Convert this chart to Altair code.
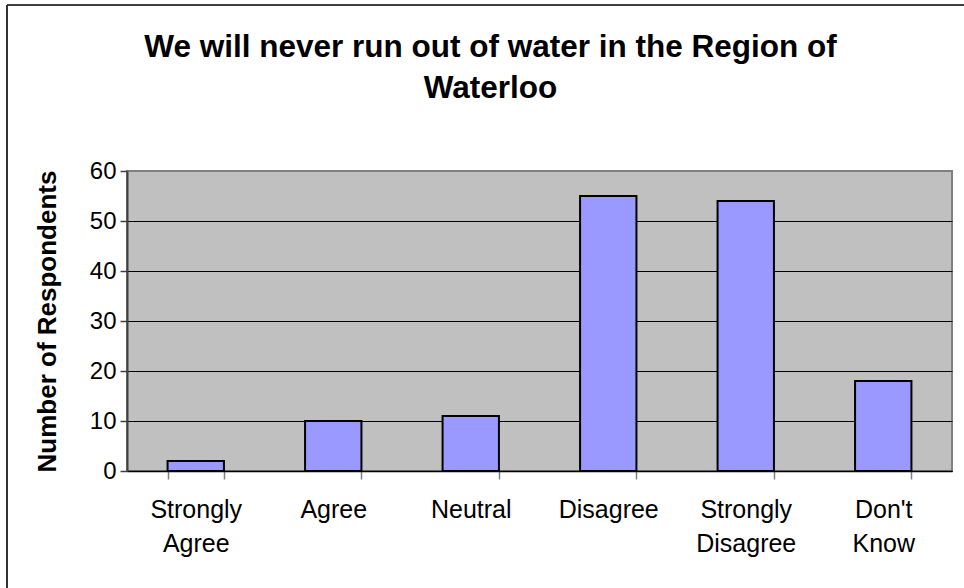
import altair as alt
import pandas as pd

categories = ["Strongly Agree", "Agree", "Neutral", "Disagree", "Strongly Disagree", "Don't Know"]
respondents = [2, 10, 11, 55, 54, 18]
y_ticks = [0, 10, 20, 30, 40, 50, 60]
title_lines = ["We will never run out of water in the Region of", "Waterloo"]
y_title = "Number of Respondents"

df = pd.DataFrame({"category": categories, "count": respondents})
one = pd.DataFrame({"k": [0]})

FONT = "Liberation Sans"

bars = alt.Chart(df).mark_bar(color="#9999FF", stroke="black", strokeWidth=2).encode(
    x=alt.X(
        "category:N",
        sort=categories,
        scale=alt.Scale(paddingInner=0.59, paddingOuter=0.295),
        axis=alt.Axis(
            title=None,
            labelExpr="split(datum.label, ' ')",
            labelAngle=0,
            labelFont=FONT,
            labelFontSize=25,
            labelColor="black",
            labelLineHeight=34,
            labelPadding=18,
            labelBaseline="top",
            tickBand="extent",
            tickSize=8,
            tickColor="#808080",
            tickWidth=1.5,
            domainColor="black",
            domainWidth=1.5,
            grid=False,
        ),
    ),
    y=alt.Y(
        "count:Q",
        scale=alt.Scale(domain=[0, 60], nice=False),
        axis=alt.Axis(
            values=y_ticks,
            title=y_title,
            titleFont=FONT,
            titleFontSize=26,
            titleFontWeight="bold",
            titleColor="black",
            titleAngle=270,
            titleBaseline="middle",
            titleX=-80,
            titleY=150,
            labelFont=FONT,
            labelFontSize=24,
            labelColor="black",
            labelPadding=4,
            tickSize=7,
            tickColor="#404040",
            tickWidth=1.5,
            domainColor="#404040",
            domainWidth=2,
            grid=True,
            gridColor={"condition": {"test": "datum.value === 60", "value": "#808080"}, "value": "black"},
            gridWidth=1,
        ),
    ),
)

frame_top = alt.Chart(one).mark_rule(color="black", strokeWidth=1.5).encode(
    x=alt.value(-120), x2=alt.value(850), y=alt.value(-166)
)
frame_left = alt.Chart(one).mark_rule(color="#333333", strokeWidth=2).encode(
    x=alt.value(-120), y=alt.value(-166), y2=alt.value(430)
)

chart = alt.layer(bars, frame_top, frame_left).properties(
    width=825,
    height=300,
    autosize=alt.AutoSizeParams(type="none"),
    padding={"left": 127, "top": 171, "right": 12, "bottom": 117},
    title=alt.TitleParams(
        text=title_lines,
        font=FONT,
        fontSize=31.5,
        fontWeight="bold",
        color="black",
        lineHeight=41,
        anchor="middle",
        dx=-49,
        offset=-100,
    ),
).configure(background="white").configure_view(
    fill="#C0C0C0", stroke="#808080", strokeWidth=2
)

chart.save("out.html", embed_options={"renderer": "svg", "actions": False})
